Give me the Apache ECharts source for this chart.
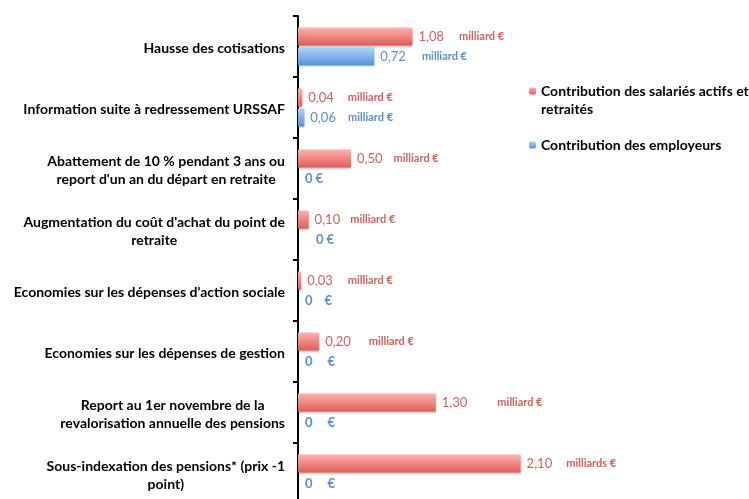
<!DOCTYPE html>
<html><head><meta charset="utf-8">
<script src="https://cdn.jsdelivr.net/npm/echarts@6/dist/echarts.min.js"></script>
<style>html,body{margin:0;padding:0;background:#fff}#c{width:749px;height:499px}</style>
</head><body><div id="c"></div>
<script>
const categories = [
  "Hausse des cotisations",
  "Information suite à redressement URSSAF",
  "Abattement de 10 % pendant 3 ans ou\nreport d'un an du départ en retraite",
  "Augmentation du coût d'achat du point de\nretraite",
  "Economies sur les dépenses d'action sociale",
  "Economies sur les dépenses de gestion",
  "Report au 1er novembre de la\nrevalorisation annuelle des pensions",
  "Sous-indexation des pensions* (prix -1\npoint)"
];
const seriesNames = ["Contribution des salariés actifs et retraités", "Contribution des employeurs"];
const salaries = [1.08, 0.04, 0.50, 0.10, 0.03, 0.20, 1.30, 2.10];
const employeurs = [0.72, 0.06, 0, 0, 0, 0, 0, 0];
const salariesUnits = ["milliard €", "milliard €", "milliard €", "milliard €", "milliard €", "milliard €", "milliard €", "milliards €"];
const employeursUnits = ["milliard €", "milliard €", "€", "€", "€", "€", "€", "€"];

// styling (label spacing), not data
const redGap = [15, 14, 11, 10, 15, 18, 30, 14];
const blueGap = [16, 12, 3, 3, 12, 15, 15, 15];
const blueDist = [6, 6, 7, 18, 7, 7, 7, 7];

const RED_TXT = '#d4605b', BLUE_TXT = '#5a8fd0';
const fmtVal = v => v === 0 ? '0' : v.toFixed(2).replace('.', ',');

function makeData(vals, units, gaps, dists, color) {
  return vals.map((v, i) => ({
    value: v,
    label: {
      show: true, position: 'right', distance: dists ? dists[i] : 6,
      formatter: '{v|' + fmtVal(v) + '}{u|' + units[i] + '}',
      rich: {
        v: {fontFamily: 'Lato', fontSize: 13, color: color, fontWeight: (v === 0 ? 'bold' : 'normal')},
        u: {fontFamily: 'Lato', fontSize: (units[i] === '€' ? 13 : 11), fontWeight: 'bold', color: color, padding: [0, 0, 0, gaps[i]]}
      }
    }
  }));
}

const redGrad = new echarts.graphic.LinearGradient(0, 0, 0, 1, [
  {offset: 0, color: '#ffb1ad'}, {offset: 1, color: '#df5d58'}]);
const blueGrad = new echarts.graphic.LinearGradient(0, 0, 0, 1, [
  {offset: 0, color: '#add2fb'}, {offset: 1, color: '#5693d8'}]);

const chart = echarts.init(document.getElementById('c'));
chart.setOption({
  animation: false,
  grid: {left: 298, top: 16, width: 318, height: 488, outerBoundsMode: 'none', containLabel: false},
  xAxis: {type: 'value', min: 0, max: 3, show: false},
  yAxis: {
    type: 'category', data: categories, inverse: true,
    axisLine: {show: true, lineStyle: {color: '#000', width: 2}},
    axisTick: {show: true, length: 5, lineStyle: {color: '#000', width: 2}},
    splitLine: {show: false},
    axisLabel: {
      margin: 13,
      padding: [3, 0, 0, 0],
      formatter: v => v.split('\n').map(l => '{c|' + l + '}').join('\n'),
      rich: {c: {fontFamily: 'Lato', fontSize: 14, fontWeight: 'bold', color: '#000', align: 'center', lineHeight: 18}}
    }
  },
  legend: [
    {data: [seriesNames[0]], left: 529, top: 64, padding: 0, orient: 'vertical', itemWidth: 7, itemHeight: 7, itemGap: 0,
     formatter: () => '\nContribution des salariés actifs et\nretraités',
     textStyle: {fontFamily: 'Lato', fontSize: 14, fontWeight: 'bold', color: '#000', lineHeight: 18}},
    {data: [seriesNames[1]], left: 529, top: 136, padding: 0, orient: 'vertical', itemWidth: 7, itemHeight: 7,
     textStyle: {fontFamily: 'Lato', fontSize: 14, fontWeight: 'bold', color: '#000', lineHeight: 18}}
  ],
  series: [
    {name: seriesNames[0], type: 'bar', barWidth: 18, barGap: '11%', barCategoryGap: '38%',
     itemStyle: {color: redGrad, shadowBlur: 2, shadowColor: 'rgba(0,0,0,0.25)', shadowOffsetY: 1},
     data: makeData(salaries, salariesUnits, redGap, null, RED_TXT)},
    {name: seriesNames[1], type: 'bar', barWidth: 18, barGap: '11%',
     itemStyle: {color: blueGrad, shadowBlur: 2, shadowColor: 'rgba(0,0,0,0.25)', shadowOffsetY: 1},
     data: makeData(employeurs, employeursUnits, blueGap, blueDist, BLUE_TXT)}
  ]
});
</script></body></html>
